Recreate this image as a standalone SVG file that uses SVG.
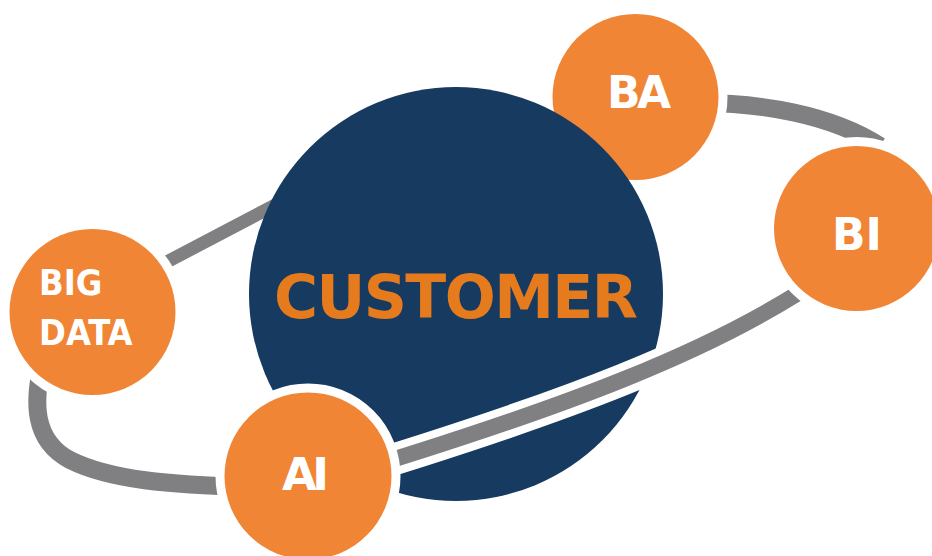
<svg xmlns="http://www.w3.org/2000/svg" width="932" height="556" viewBox="0 0 932 556">
<style>
.ring{fill:none;stroke:#808083;stroke-linecap:butt}
.halo{fill:none;stroke:#ffffff;stroke-linecap:butt}
.sat{fill:#F08536;stroke:#ffffff;stroke-width:18;paint-order:stroke}
.lbl{font-family:"DejaVu Sans","Verdana",sans-serif;font-weight:bold;fill:#ffffff}
.lblc{font-family:"DejaVu Sans Condensed","DejaVu Sans",sans-serif;font-stretch:condensed;font-weight:bold;fill:#ffffff}
.core{fill:#163A60}
.coreTxt{font-family:"DejaVu Sans","Verdana",sans-serif;font-weight:bold;fill:#E57B1D}
</style>
<rect width="932" height="556" fill="#ffffff"/>
<g id="ring-back">
<path class="ring" stroke-width="13" d="M140,276 L300,192"/>
<path class="ring" stroke-width="18" d="M700,103 C760,103 830,114 880,146"/>
<path class="ring" stroke-width="18" d="M42,365 C34,400 32,440 70,460 C110,480 170,485 250,487"/>
</g>
<g id="node-ba">
<circle class="sat" cx="635.5" cy="97" r="83"/>
<text class="lbl" x="607" y="108" font-size="44" textLength="64">BA</text>
</g>
<g id="node-customer">
<circle class="core" cx="456" cy="294" r="207"/>
<text class="coreTxt" x="274" y="318" font-size="60" textLength="364">CUSTOMER</text>
</g>
<g id="ring-front">
<path class="halo" stroke-width="32" d="M830,272 C720,350 560,410 320,482"/>
<path class="ring" stroke-width="16" d="M830,272 C720,350 560,410 320,482"/>
</g>
<g id="node-bigdata">
<circle class="sat" cx="92.5" cy="312" r="83"/>
<text class="lblc" x="39" y="295" font-size="36">BIG</text>
<text class="lblc" x="39" y="345" font-size="36">DATA</text>
</g>
<g id="node-bi">
<circle class="sat" cx="856.5" cy="228.5" r="82.5"/>
<text class="lbl" x="832" y="250" font-size="44">BI</text>
</g>
<g id="node-ai">
<circle class="sat" cx="308" cy="476" r="83.5"/>
<text class="lbl" x="282" y="490" font-size="45" textLength="47">AI</text>
</g>
</svg>
